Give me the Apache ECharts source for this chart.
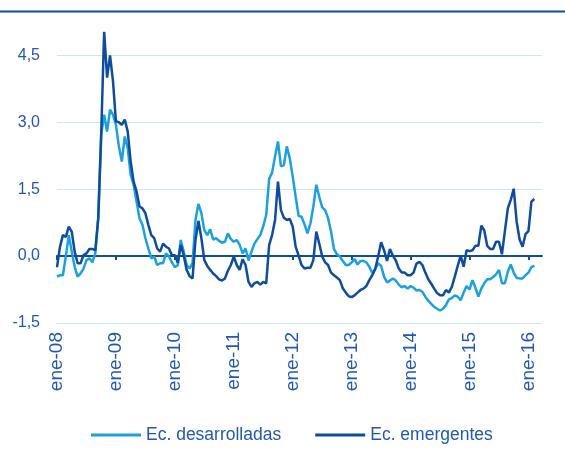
<!DOCTYPE html>
<html lang="es">
<head>
    <meta charset="UTF-8">
    <title>Ec. desarrolladas vs Ec. emergentes</title>
    <script src="https://cdn.jsdelivr.net/npm/echarts@6/dist/echarts.min.js"></script>
    <style>
        html, body { margin: 0; padding: 0; background: #fff; }
        #main { width: 565px; height: 461px; }
    </style>
</head>
<body>
<div id="main"></div>
<script>
    // serie quincenal aprox. (paso 0,05 años) desde ene-08
    var inicio = 2008, paso = 0.05;
    var anios = [2008, 2009, 2010, 2011, 2012, 2013, 2014, 2015, 2016];
    var marcasY = [-1.5, 0, 1.5, 3, 4.5];

    var desarrolladas = [
        -0.46, -0.43, -0.43, 0.00, 0.47, 0.10, -0.24, -0.46, -0.39, -0.28,
        -0.09, -0.05, -0.14, 0.06, 0.85, 2.72, 3.17, 2.79, 3.28, 3.17,
        2.94, 2.46, 2.12, 2.68, 2.42, 1.82, 1.60, 1.22, 0.85, 0.70,
        0.40, 0.17, -0.05, -0.01, -0.20, -0.16, -0.16, 0.06, -0.01, -0.14,
        -0.25, -0.20, 0.36, 0.10, -0.20, -0.28, -0.16, 0.81, 1.17, 0.96,
        0.58, 0.47, 0.60, 0.37, 0.40, 0.34, 0.30, 0.32, 0.51, 0.38,
        0.32, 0.36, 0.25, 0.06, 0.17, -0.10, 0.10, 0.28, 0.38, 0.47,
        0.67, 0.92, 1.73, 1.87, 2.23, 2.57, 2.01, 2.04, 2.46, 2.19,
        1.78, 1.33, 0.90, 0.88, 0.71, 0.51, 0.73, 1.11, 1.60, 1.33,
        1.09, 1.03, 0.85, 0.55, 0.16, 0.04, -0.01, -0.11, -0.20, -0.20,
        -0.14, -0.07, -0.19, -0.11, -0.11, -0.14, -0.24, -0.38, -0.29, -0.16,
        -0.22, -0.46, -0.59, -0.55, -0.50, -0.55, -0.64, -0.70, -0.67, -0.73,
        -0.67, -0.71, -0.77, -0.76, -0.80, -0.91, -1.00, -1.07, -1.14, -1.18,
        -1.22, -1.18, -1.10, -0.97, -0.94, -0.88, -0.91, -0.99, -0.82, -0.67,
        -0.75, -0.54, -0.71, -0.91, -0.73, -0.61, -0.52, -0.52, -0.47, -0.41,
        -0.31, -0.61, -0.61, -0.35, -0.19, -0.37, -0.49, -0.50, -0.50, -0.43,
        -0.37, -0.25, -0.22
    ];

    var emergentes = [
        -0.25, 0.20, 0.47, 0.43, 0.66, 0.55, 0.10, -0.16, -0.16, 0.02,
        0.06, 0.16, 0.16, 0.13, 0.85, 2.72, 5.04, 4.00, 4.50, 3.92,
        3.02, 3.00, 2.94, 3.06, 2.79, 2.12, 1.67, 1.45, 1.11, 1.07,
        0.96, 0.70, 0.47, 0.40, 0.17, 0.10, 0.28, 0.21, 0.17, 0.02,
        0.02, -0.15, 0.25, 0.02, -0.31, -0.45, -0.50, 0.36, 0.79, 0.40,
        -0.09, -0.22, -0.31, -0.39, -0.45, -0.52, -0.55, -0.50, -0.33, -0.20,
        -0.01, -0.20, -0.31, -0.07, -0.20, -0.58, -0.69, -0.61, -0.58, -0.64,
        -0.58, -0.61, 0.25, 0.47, 0.81, 1.67, 1.03, 0.86, 0.81, 0.83,
        0.66, 0.21, 0.01, -0.20, -0.28, -0.26, -0.26, -0.09, 0.55, 0.28,
        -0.01, -0.14, -0.20, -0.37, -0.43, -0.48, -0.54, -0.72, -0.82, -0.90,
        -0.92, -0.88, -0.82, -0.76, -0.73, -0.67, -0.54, -0.43, -0.29, -0.01,
        0.31, 0.13, -0.11, 0.16, 0.01, -0.10, -0.28, -0.37, -0.37, -0.43,
        -0.43, -0.37, -0.17, -0.13, -0.20, -0.37, -0.52, -0.62, -0.73, -0.83,
        -0.88, -0.88, -0.76, -0.82, -0.69, -0.46, -0.22, 0.01, -0.24, 0.13,
        0.11, 0.13, 0.23, 0.23, 0.68, 0.58, 0.23, 0.16, 0.16, 0.32,
        0.32, 0.04, 0.56, 1.07, 1.26, 1.51, 0.77, 0.37, 0.21, 0.49,
        0.56, 1.22, 1.28
    ];

    var fechas = [];
    for (var i = 0; i < desarrolladas.length; i++) {
        fechas.push(+(inicio + i * paso).toFixed(2));
    }

    function pares(valores) {
        return valores.map(function (v, i) { return [fechas[i], v]; });
    }

    var azulClaro = '#1ba1dd';
    var azulOscuro = '#0e4c9e';
    var azulTexto = '#2158b0';

    var myChart = echarts.init(document.getElementById('main'));
    var option = {
        animation: false,
        textStyle: { fontFamily: 'Liberation Sans, Arial, sans-serif' },
        graphic: [{
            type: 'line',
            shape: { x1: 0, y1: 11.5, x2: 565, y2: 11.5 },
            style: { stroke: azulOscuro, lineWidth: 2 }
        }],
        grid: { left: 57, right: 23, top: 33, bottom: 138 },
        legend: {
            left: 86,
            top: 421,
            icon: 'rect',
            itemWidth: 50,
            itemHeight: 3,
            itemGap: 34,
            textStyle: { color: azulTexto, fontSize: 17.5 },
            data: ['Ec. desarrolladas', 'Ec. emergentes']
        },
        xAxis: [{
            type: 'value',
            min: 2008,
            max: 2016.23,
            interval: 1,
            axisLine: { onZero: true, lineStyle: { color: azulOscuro, width: 2 } },
            axisTick: { show: true, length: 4, customValues: anios, lineStyle: { color: azulOscuro, width: 2 } },
            axisLabel: { show: false },
            splitLine: { show: false }
        }, {
            type: 'value',
            position: 'bottom',
            min: 2008,
            max: 2016.23,
            interval: 1,
            axisLine: { show: false, onZero: false },
            axisTick: { show: false },
            axisLabel: {
                rotate: 90,
                margin: 9,
                color: azulTexto,
                fontSize: 19,
                customValues: anios,
                formatter: function (v) { return 'ene-' + String(Math.round(v)).slice(2); }
            },
            splitLine: { show: false }
        }],
        yAxis: {
            type: 'value',
            min: marcasY[0],
            max: 5,
            interval: 1.5,
            axisLine: { show: false },
            axisTick: { show: false },
            axisLabel: {
                margin: 17,
                color: azulTexto,
                fontSize: 16,
                showMaxLabel: false,
                formatter: function (v) {
                    return marcasY.indexOf(v) < 0 ? '' : v.toFixed(1).replace('.', ',');
                }
            },
            splitLine: { showMaxLine: false, lineStyle: { color: '#c8e8f8', width: 1 } }
        },
        series: [{
            name: 'Ec. desarrolladas',
            type: 'line',
            xAxisIndex: 0,
            showSymbol: false,
            color: azulClaro,
            lineStyle: { width: 2.5, color: azulClaro },
            data: pares(desarrolladas)
        }, {
            name: 'Ec. emergentes',
            type: 'line',
            xAxisIndex: 0,
            showSymbol: false,
            color: azulOscuro,
            lineStyle: { width: 2.5, color: azulOscuro },
            data: pares(emergentes)
        }]
    };
    myChart.setOption(option);
</script>
</body>
</html>
